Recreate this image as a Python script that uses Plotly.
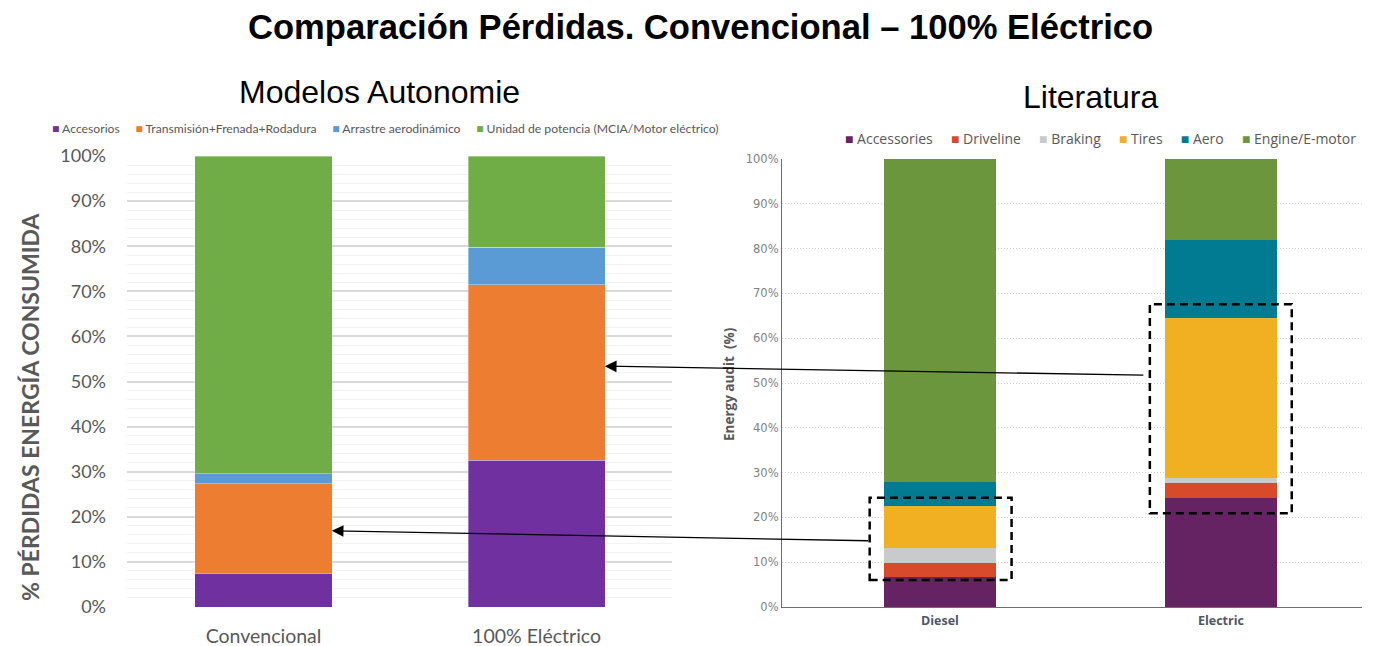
import plotly.graph_objects as go

TITLE = 'Comparación Pérdidas. Convencional – 100% Eléctrico'

# Left panel: Modelos Autonomie
AUTO_CATS = ['Convencional', '100% Eléctrico']
AUTO_SERIES = ['Accesorios', 'Transmisión+Frenada+Rodadura', 'Arrastre aerodinámico',
               'Unidad de potencia (MCIA/Motor eléctrico)']
AUTO_ACCESORIOS = [7.5, 32.5]
AUTO_TRANSMISION = [19.8, 38.9]
AUTO_AERO = [2.3, 8.4]
AUTO_POTENCIA = [70.4, 20.2]

# Right panel: Literatura
LIT_CATS = ['Diesel', 'Electric']
LIT_SERIES = ['Accessories', 'Driveline', 'Braking', 'Tires', 'Aero', 'Engine/E-motor']
LIT_ACCESSORIES = [6.8, 24.4]
LIT_DRIVELINE = [3.0, 3.3]
LIT_BRAKING = [3.4, 1.2]
LIT_TIRES = [9.3, 35.7]
LIT_AERO = [5.3, 17.3]
LIT_ENGINE = [72.2, 18.1]

PCT_TICKS = list(range(0, 101, 10))

AUTO_COLORS = ['#7030A0', '#ED7D31', '#5B9BD5', '#70AD47']
LIT_COLORS = ['#652363', '#D84B2A', '#C8CACC', '#F0B021', '#007B91', '#6C963E']

W, H = 1374, 646
OFFSET = 8  # page body margin


def px(x):
    return (x - OFFSET) / W


def py(y):
    return 1 - (y - OFFSET) / H


fig = go.Figure()

auto_values = [AUTO_ACCESORIOS, AUTO_TRANSMISION, AUTO_AERO, AUTO_POTENCIA]
for name, vals, color in zip(AUTO_SERIES, auto_values, AUTO_COLORS):
    fig.add_trace(go.Bar(
        x=AUTO_CATS, y=vals, name=name, width=0.502,
        marker=dict(color=color, line=dict(width=0.7, color='rgba(255,255,255,0.5)')),
        xaxis='x', yaxis='y', showlegend=False,
        hovertemplate=f'{name}: %{{y:.1f}}%<extra></extra>',
    ))

lit_values = [LIT_ACCESSORIES, LIT_DRIVELINE, LIT_BRAKING, LIT_TIRES, LIT_AERO, LIT_ENGINE]
for name, vals, color in zip(LIT_SERIES, lit_values, LIT_COLORS):
    fig.add_trace(go.Bar(
        x=LIT_CATS, y=vals, name=name, width=0.4,
        marker=dict(color=color, line=dict(width=0)),
        xaxis='x2', yaxis='y2', showlegend=False,
        hovertemplate=f'{name}: %{{y:.1f}}%<extra></extra>',
    ))

gray = '#595959'
auto_legend = '\u00a0' * 5
auto_legend = auto_legend.join(
    f'<span style="color:{c}">■</span>\u00a0{n}' for n, c in zip(AUTO_SERIES, AUTO_COLORS))
lit_legend = '\u00a0' * 5
lit_legend = lit_legend.join(
    f'<span style="color:{c}">■</span>\u00a0{n}' for n, c in zip(LIT_SERIES, LIT_COLORS))


def label(text, x, y, size, family='Liberation Sans, Arial', color='black', **kw):
    d = dict(text=text, x=px(x), y=py(y), xref='paper', yref='paper', showarrow=False,
             xanchor=kw.pop('xanchor', 'center'), yanchor='middle',
             font=dict(family=family, size=size, color=color))
    d.update(kw)
    return d


annotations = [
    label(f'<b>{TITLE}</b>', 700, 27, 34.6),
    label('Modelos Autonomie', 379, 92, 32),
    label('Literatura', 1090, 97, 32),
    label(auto_legend, 50, 128, 12.2, family='Lato', color=gray, xanchor='left'),
    label(lit_legend, 843, 138, 14, family='Open Sans', color='#58595B', xanchor='left'),
    label('<b>% PÉRDIDAS ENERGÍA CONSUMIDA</b>', 30, 407, 23, family='Lato', color=gray,
          textangle=-90),
    label('<b>Energy audit\u00a0\u00a0(%)</b>', 729, 384, 13.5, family='Open Sans',
          color='#58595B', textangle=-90),
    # arrows from the literature boxes to the model bars
    dict(text='', x=1.25, y=53.4, xref='x', yref='y', ax=540, ay=9,
         showarrow=True, arrowhead=2, arrowsize=1.8, arrowwidth=1.3, arrowcolor='black'),
    dict(text='', x=0.25, y=16.9, xref='x', yref='y', ax=538, ay=10,
         showarrow=True, arrowhead=2, arrowsize=1.8, arrowwidth=1.3, arrowcolor='black'),
]

box_line = dict(color='black', width=2.5, dash='8px,5px')
shapes = [
    dict(type='rect', xref='x2', yref='y2', x0=-0.25, x1=0.255, y0=6.0, y1=24.4, line=box_line),
    dict(type='rect', xref='x2', yref='y2', x0=0.747, x1=1.252, y0=20.9, y1=67.6, line=box_line),
]

fig.update_layout(
    width=W, height=H,
    barmode='stack',
    paper_bgcolor='white', plot_bgcolor='white',
    margin=dict(l=0, r=0, t=0, b=0, pad=0),
    showlegend=False,
    annotations=annotations,
    shapes=shapes,
    xaxis=dict(
        domain=[px(127), px(672)], anchor='y', type='category', range=[-0.5, 1.496],
        showgrid=False, showline=False, zeroline=False, ticks='', automargin=False,
        tickfont=dict(family='Lato', size=19.5, color=gray), ticklabelstandoff=15,
    ),
    yaxis=dict(
        domain=[py(607), py(156)], anchor='x', range=[0, 100], automargin=False,
        tickvals=PCT_TICKS, ticktext=[f'{v}%' for v in PCT_TICKS],
        showgrid=True, gridcolor='#D9D9D9', gridwidth=1.5, zeroline=False, showline=False,
        minor=dict(dtick=2, showgrid=True, gridcolor='#F2F2F2', gridwidth=1),
        tickfont=dict(family='Lato', size=18, color=gray), ticklabelstandoff=20,
    ),
    xaxis2=dict(
        domain=[px(782), px(1362)], anchor='y2', type='category', range=[-0.562, 1.502],
        showgrid=False, showline=True, linecolor='#6D6E71', linewidth=1.2, zeroline=False,
        ticks='', automargin=False,
        tickfont=dict(family='Open Sans', size=12.5, color='#4D5766', weight='bold'),
        ticklabelstandoff=2,
    ),
    yaxis2=dict(
        domain=[py(607), py(159)], anchor='x2', range=[0, 100], automargin=False,
        tickvals=PCT_TICKS, ticktext=[f'{v}%' for v in PCT_TICKS],
        showgrid=True, gridcolor='#CFCFCF', griddash='1px,2px', gridwidth=1, zeroline=False,
        showline=True, linecolor='#6D6E71', linewidth=1.2,
        tickfont=dict(family='DejaVu Sans', size=11.5, color='#808285'),
    ),
)

fig.write_html('out.html')
